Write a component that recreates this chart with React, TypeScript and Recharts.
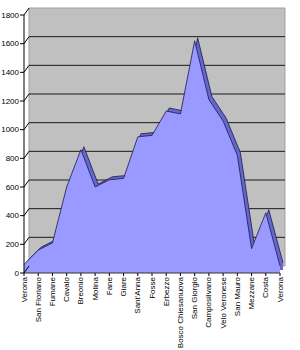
import React from "react";
import {
  AreaChart,
  Area,
  XAxis,
  YAxis,
  ReferenceArea,
  ReferenceLine,
} from "recharts";

// ── Data ───────────────────────────────────────────────────────────

const towns = [
  "Verona",
  "San Floriano",
  "Fumane",
  "Cavalo",
  "Breonio",
  "Molina",
  "Fane",
  "Giare",
  "Sant'Anna",
  "Fosse",
  "Erbezzo",
  "Bosco Chiesanuova",
  "San Giorgio",
  "Camposilvano",
  "Velo Veronese",
  "San Mauro",
  "Mezzane",
  "Costa",
  "Verona",
];

const altitude = [
  60, 160, 210, 600, 860, 600, 650, 660, 950, 960, 1130, 1110, 1620, 1210,
  1060, 820, 170, 420, 50,
];

const yTicks = [0, 200, 400, 600, 800, 1000, 1200, 1400, 1600, 1800];
const wallLines = [200, 400, 600, 800, 1000, 1200, 1400, 1600];

const rows = towns.map((name, i) => ({ name, alt: altitude[i] }));

// ── Layout ─────────────────────────────────────────────────────────

const W = 300;
const H = 350;
const M = { top: 15, right: 20, bottom: 77, left: 24 };
const WALL = { dx: 5, dy: -7 }; // back wall offset (fake 3d depth)
const SLAB = { dx: 3, dy: -3 }; // top face of the area slab
const FONT = '"Liberation Sans", Arial, sans-serif';
const DOMAIN: [number, number] = [0, 1800];

// ── Ticks ──────────────────────────────────────────────────────────

function YTick({ x, y, payload }: any) {
  const ax = x + 5; // tickMargin 1 + tickSize 4
  return (
    <g>
      <text
        x={x}
        y={y}
        textAnchor="end"
        dominantBaseline="central"
        fontSize={8}
        fontFamily={FONT}
        fill="#000"
      >
        {payload.value}
      </text>
      <line
        x1={ax}
        y1={y}
        x2={ax + WALL.dx}
        y2={y + WALL.dy}
        stroke="#000"
        strokeWidth={1}
      />
    </g>
  );
}

function XTick({ x, y, payload }: any) {
  return (
    <text
      x={x}
      y={y}
      transform={`rotate(-90, ${x}, ${y})`}
      textAnchor="end"
      dominantBaseline="central"
      fontSize={8}
      fontFamily={FONT}
      fill="#000"
    >
      {payload.value}
    </text>
  );
}

// ── Component ──────────────────────────────────────────────────────

function Layer({ dx, dy, children }: { dx: number; dy: number; children: React.ReactNode }) {
  return (
    <div style={{ position: "absolute", left: dx, top: dy, width: W, height: H }}>
      {children}
    </div>
  );
}

export default function App() {
  return (
    <div
      style={{
        position: "absolute",
        left: 0,
        top: 0,
        width: W,
        height: H,
        background: "#fff",
        overflow: "hidden",
      }}
    >
      {/* back wall with gridlines */}
      <Layer dx={WALL.dx} dy={WALL.dy}>
        <AreaChart width={W} height={H} data={rows} margin={M}>
          <XAxis dataKey="name" hide />
          <YAxis hide domain={DOMAIN} ticks={yTicks} />
          <ReferenceArea
            y1={0}
            y2={1800}
            fill="#c0c0c0"
            fillOpacity={1}
            stroke="#a0a0a0"
            ifOverflow="visible"
          />
          {wallLines.map((v) => (
            <ReferenceLine
              key={v}
              y={v}
              stroke="#1a1a1a"
              strokeWidth={1}
              ifOverflow="visible"
            />
          ))}
          {/* invisible series so the wall has the same scales */}
          <Area
            type="linear"
            dataKey="alt"
            fill="none"
            stroke="none"
            isAnimationActive={false}
          />
        </AreaChart>
      </Layer>

      {/* top face of the slab */}
      <Layer dx={SLAB.dx} dy={SLAB.dy}>
        <AreaChart width={W} height={H} data={rows} margin={M}>
          <XAxis dataKey="name" hide />
          <YAxis hide domain={DOMAIN} ticks={yTicks} />
          <Area
            type="linear"
            dataKey="alt"
            fill="#6666cc"
            fillOpacity={1}
            stroke="#1a1a4d"
            strokeWidth={0.8}
            isAnimationActive={false}
          />
        </AreaChart>
      </Layer>

      {/* front face + axes */}
      <Layer dx={0} dy={0}>
        <AreaChart
          width={W}
          height={H}
          data={rows}
          margin={{ top: M.top, right: M.right, bottom: 0, left: 0 }}
        >
          <XAxis
            dataKey="name"
            height={M.bottom}
            interval={0}
            tickSize={3}
            tickMargin={1}
            tick={<XTick />}
            axisLine={{ stroke: "#333" }}
            tickLine={{ stroke: "#000" }}
          />
          <YAxis
            width={M.left}
            domain={DOMAIN}
            ticks={yTicks}
            interval={0}
            tickSize={4}
            tickMargin={1}
            tick={<YTick />}
            axisLine={{ stroke: "#000" }}
            tickLine={{ stroke: "#000" }}
          />
          <Area
            type="linear"
            dataKey="alt"
            fill="#9999ff"
            fillOpacity={1}
            stroke="#1a1a4d"
            strokeWidth={0.8}
            isAnimationActive={false}
          />
        </AreaChart>
      </Layer>
    </div>
  );
}
